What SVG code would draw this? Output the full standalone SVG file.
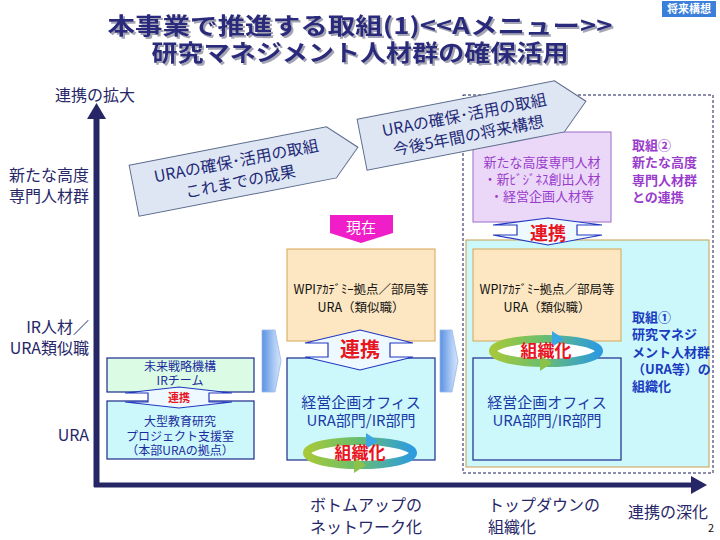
<svg xmlns="http://www.w3.org/2000/svg" width="720" height="540" viewBox="0 0 720 540">
<defs>
<linearGradient id="ringGrad" x1="0" y1="0" x2="1" y2="0">
<stop offset="0" stop-color="#a6c83a"/>
<stop offset="0.45" stop-color="#6cbf6a"/>
<stop offset="1" stop-color="#2c9be0"/>
</linearGradient>
<linearGradient id="chevGrad" x1="0" y1="0" x2="1" y2="0">
<stop offset="0" stop-color="#5a90e2"/>
<stop offset="0.6" stop-color="#a8c8f4"/>
<stop offset="1" stop-color="#d8e6fa"/>
</linearGradient>
<filter id="shadow" x="-5%" y="-20%" width="110%" height="150%">
<feDropShadow dx="2" dy="2" stdDeviation="0.6" flood-color="#9a9aac" flood-opacity="0.9"/>
</filter>
<style>
text{font-family:"Noto Sans CJK JP","Noto Sans",sans-serif;}
.ax{font-size:16px;fill:#262668;}
.title{font-size:23px;font-weight:bold;fill:#2a2a7c;}
.big{fill:#dfe6f3;stroke:#5b6b8c;stroke-width:1;}
.bigt{font-size:16px;fill:#1e2a78;text-anchor:middle;}
.org{fill:#fde7c2;stroke:#d4a555;stroke-width:1;}
.cyan{fill:#cdf8fb;stroke:#1a2a8c;stroke-width:1.2;}
.ort{font-size:12.5px;fill:#111;text-anchor:middle;}
.bl{font-size:15px;fill:#1a3aa8;text-anchor:middle;}
.lb{font-size:12px;fill:#1a2ca0;text-anchor:middle;}
.renk{fill:#eef8ff;stroke:#2238c0;stroke-width:1.2;}
.rt{font-weight:bold;fill:#e8141e;text-anchor:middle;}
.chev{fill:url(#chevGrad);stroke:#9ab8e8;stroke-width:0.8;}
.pur{font-size:13px;fill:#9a3ccc;}
.blu{font-size:13px;fill:#1a3cc0;font-weight:bold;}
</style>
</defs>

<rect width="720" height="540" fill="#ffffff"/>

<g id="title" filter="url(#shadow)">
<text class="title" x="360" y="34" text-anchor="middle" textLength="505" lengthAdjust="spacingAndGlyphs">本事業で推進する取組(1)&lt;&lt;Aメニュー&gt;&gt;</text>
<text class="title" x="360" y="61" text-anchor="middle" textLength="417" lengthAdjust="spacingAndGlyphs">研究マネジメント人材群の確保活用</text>
</g>

<g id="tag">
<rect x="662" y="1" width="54" height="16" fill="#3a80da"/>
<text x="689" y="13" text-anchor="middle" font-size="11" font-weight="bold" fill="#fff">将来構想</text>
</g>

<g id="axis-labels">
<text class="ax" x="55" y="101">連携の拡大</text>
<text class="ax" x="89" y="181" text-anchor="end">新たな高度</text>
<text class="ax" x="89" y="202" text-anchor="end">専門人材群</text>
<text class="ax" x="89" y="333" text-anchor="end">IR人材／</text>
<text class="ax" x="89" y="354" text-anchor="end">URA類似職</text>
<text class="ax" x="89" y="441" text-anchor="end">URA</text>
<text class="ax" x="310" y="511">ボトムアップの</text>
<text class="ax" x="310" y="533">ネットワーク化</text>
<text class="ax" x="488" y="511">トップダウンの</text>
<text class="ax" x="488" y="533">組織化</text>
<text class="ax" x="628" y="518">連携の深化</text>
<text x="708" y="532" font-size="11" fill="#111">2</text>
</g>

<g id="future-area">
<rect x="463" y="95" width="250" height="378" fill="none" stroke="#1a1a5e" stroke-width="1" stroke-dasharray="3,2"/>
</g>

<g id="left-ir">
<rect x="107" y="358" width="147" height="34" fill="#dcfbe4" stroke="#1a2a8c" stroke-width="1.2"/>
<text class="lb" x="180" y="371">未来戦略機構</text>
<text class="lb" x="180" y="385">IRチーム</text>
</g>

<g id="left-ura">
<rect x="107" y="401" width="147" height="58" fill="#cdf8fb" stroke="#1a2a8c" stroke-width="1.2"/>
<text class="lb" x="180" y="426">大型教育研究</text>
<text class="lb" x="180" y="441">プロジェクト支援室</text>
<text class="lb" x="180" y="455">（本部URAの拠点）</text>
</g>

<g id="now">
<polygon points="330,215 393,215 393,233 361,243 330,233" fill="#f01ec8"/>
<text x="361" y="233" text-anchor="middle" font-size="15" fill="#fff">現在</text>
</g>

<g id="mid-wpi">
<rect class="org" x="287" y="249" width="148" height="92"/>
<text class="ort" x="361" y="294">WPIｱｶﾃﾞﾐｰ拠点／部局等</text>
<text class="ort" x="361" y="312">URA（類似職）</text>
</g>

<g id="mid-office">
<rect class="cyan" x="287" y="358" width="148" height="102"/>
<text class="bl" x="361" y="408">経営企画オフィス</text>
<text class="bl" x="361" y="426">URA部門/IR部門</text>
</g>

<g id="right-new">
<rect x="473" y="132" width="138" height="90" fill="#ebd8f8" stroke="#9c6cc8" stroke-width="1"/>
<text class="pur" x="542" y="167" text-anchor="middle">新たな高度専門人材</text>
<text class="pur" x="542" y="184" text-anchor="middle">・新ﾋﾞｼﾞﾈｽ創出人材</text>
<text class="pur" x="542" y="201" text-anchor="middle">・経営企画人材等</text>
</g>

<g id="label-2">
<text class="pur" font-weight="bold" x="632" y="150">取組②</text>
<text class="pur" font-weight="bold" x="632" y="167">新たな高度</text>
<text class="pur" font-weight="bold" x="632" y="185">専門人材群</text>
<text class="pur" font-weight="bold" x="632" y="202">との連携</text>
</g>

<g id="right-org">
<rect x="466" y="240" width="243" height="227" fill="#cdf8fb" stroke="#c8a050" stroke-width="1"/>
</g>

<g id="right-wpi">
<rect class="org" x="473" y="249" width="148" height="92"/>
<text class="ort" x="547" y="294">WPIｱｶﾃﾞﾐｰ拠点／部局等</text>
<text class="ort" x="547" y="312">URA（類似職）</text>
</g>

<g id="right-office">
<rect class="cyan" x="473" y="358" width="148" height="102"/>
<text class="bl" x="547" y="408">経営企画オフィス</text>
<text class="bl" x="547" y="426">URA部門/IR部門</text>
</g>

<g id="label-1">
<text class="blu" x="632" y="322">取組①</text>
<text class="blu" x="632" y="339">研究マネジ</text>
<text class="blu" x="632" y="357">メント人材群</text>
<text class="blu" x="632" y="374">（URA等）の</text>
<text class="blu" x="632" y="391">組織化</text>
</g>

<g id="arrow-past" transform="translate(246,169) rotate(-11)">
<polygon class="big" points="-114,-26 87,-26 114,0 87,26 -114,26"/>
<text class="bigt" x="-8" y="-4">URAの確保･活用の取組</text>
<text class="bigt" x="-8" y="17">これまでの成果</text>
</g>

<g id="arrow-future" transform="translate(474,123) rotate(-11)">
<polygon class="big" points="-114,-26 87,-26 114,0 87,26 -114,26"/>
<text class="bigt" x="-8" y="-4">URAの確保･活用の取組</text>
<text class="bigt" x="-8" y="17">今後5年間の将来構想</text>
</g>

<g id="connectors">
<line x1="96.5" y1="115" x2="96.5" y2="487" stroke="#262666" stroke-width="6"/>
<polygon points="87,119 96.5,103 106,119" fill="#262666"/>
<line x1="94" y1="485" x2="693" y2="485" stroke="#262666" stroke-width="5"/>
<polygon points="691,476 707,485 691,494" fill="#262666"/>
<polygon class="chev" points="262,330 275,330 281,361 275,392 262,392"/>
<polygon class="chev" points="440,330 452,330 458,361 452,392 440,392"/>
<g id="renkei-left">
<polygon class="renk" points="179,387 232,393 209,393 209,402 232,402 179,408 125,402 148,402 148,393 125,393"/>
<text class="rt" x="179" y="402" font-size="11">連携</text>
</g>
<g id="renkei-mid">
<polygon class="renk" points="360,330 413,343 390,343 390,357 413,357 360,370 305,357 328,357 328,343 305,343"/>
<text class="rt" x="360" y="357" font-size="20">連携</text>
</g>
<g id="renkei-right">
<polygon class="renk" points="548,218 602,225 577,225 577,235 602,235 548,245 493,235 517,235 517,225 493,225"/>
<text class="rt" x="548" y="240" font-size="18">連携</text>
</g>
</g>

<g id="ring-mid" transform="translate(360,453)">
<ellipse rx="53" ry="12" fill="#fff" stroke="url(#ringGrad)" stroke-width="8"/>
<polygon points="6,-20 18,-12 6,-4" fill="#3aa6e4"/>
<polygon points="-6,4 6,12 -6,20" fill="#8cc24a"/>
<text class="rt" x="0" y="6" font-size="17">組織化</text>
</g>

<g id="ring-right" transform="translate(546,351)">
<ellipse rx="53" ry="12" fill="#fff" stroke="url(#ringGrad)" stroke-width="8"/>
<polygon points="6,-20 18,-12 6,-4" fill="#3aa6e4"/>
<polygon points="-6,4 6,12 -6,20" fill="#8cc24a"/>
<text class="rt" x="0" y="6" font-size="17">組織化</text>
</g>
</svg>
